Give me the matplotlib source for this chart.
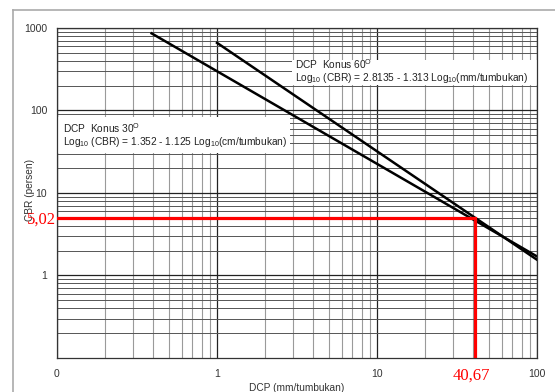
import matplotlib
matplotlib.use("Agg")
import matplotlib.pyplot as plt
from matplotlib.lines import Line2D
from matplotlib.patches import Rectangle

plt.rcParams['font.family'] = ['Liberation Sans', 'DejaVu Sans']
plt.rcParams['mathtext.default'] = 'regular'

# garis korelasi DCP - CBR
dcp_30 = [0.39, 100]
cbr_30 = [860, 1.7]
dcp_60 = [1.0, 100]
cbr_60 = [660, 1.55]

# titik baca
dcp_read = 40.67
cbr_read = 5.02

x_ticks = [0.1, 1, 10, 100]
x_ticklabels = ['0', '1', '10', '100']
y_ticks = [1, 10, 100, 1000]
y_ticklabels = ['1', '10', '100', '1000']

fig = plt.figure(figsize=(5.55, 3.92), dpi=100)
ax = fig.add_axes([0.1027, 0.0867, 0.865, 0.842])

ax.set_xscale('log')
ax.set_yscale('log')

# grid
ax.set_axisbelow(True)
ax.grid(True, which='major', color='#222222', lw=0.9)
ax.xaxis.grid(True, which='minor', color='#9a9a9a', lw=0.8)
ax.yaxis.grid(True, which='minor', color='#555555', lw=0.7)

# kotak keterangan
ax.add_patch(Rectangle((0.0, 0.621), 0.485, 0.109, transform=ax.transAxes,
                       facecolor='white', edgecolor='none', zorder=1.5))
ax.add_patch(Rectangle((0.49, 0.827), 0.51, 0.076, transform=ax.transAxes,
                       facecolor='white', edgecolor='none', zorder=1.5))

ax.plot(dcp_30, cbr_30, color='black', lw=1.8, zorder=2.5)
ax.plot(dcp_60, cbr_60, color='black', lw=1.8, zorder=2.5)

# garis merah
ax.plot([0.1, dcp_read, dcp_read], [cbr_read, cbr_read, 0.1],
        color='#ff0000', lw=2.3, zorder=3, solid_joinstyle='miter')

ax.text(0.0125, 0.697, r'DCP  Konus 30$^{O}$', transform=ax.transAxes,
        fontsize=7.3, color='#222222', va='center', zorder=4)
ax.text(0.0125, 0.655, r'Log$_{10}$ (CBR) = 1.352 - 1.125 Log$_{10}$(cm/tumbukan)',
        transform=ax.transAxes, fontsize=7.3, color='#222222', va='center', zorder=4)
ax.text(0.496, 0.89, r'DCP  Konus 60$^{O}$', transform=ax.transAxes,
        fontsize=7.3, color='#222222', va='center', zorder=4)
ax.text(0.496, 0.848, r'Log$_{10}$ (CBR) = 2.8135 - 1.313 Log$_{10}$(mm/tumbukan)',
        transform=ax.transAxes, fontsize=7.3, color='#222222', va='center', zorder=4)

ax.set_xticks(x_ticks)
ax.set_xticklabels(x_ticklabels)
ax.set_yticks(y_ticks)
ax.set_yticklabels(y_ticklabels)
ax.set_xlim(0.1, 100)
ax.set_ylim(0.1, 1000)
ax.tick_params(which='both', length=0, labelsize=7.5, colors='#333333')
ax.tick_params(axis='x', pad=8)
ax.tick_params(axis='y', pad=7)

for s in ax.spines.values():
    s.set_color('#333333')
    s.set_linewidth(0.9)

ax.set_xlabel('DCP (mm/tumbukan)', fontsize=7.3, color='#333333', labelpad=3)
ax.set_ylabel('CBR (persen)', fontsize=7.3, color='#333333')
ax.yaxis.set_label_coords(-0.045, 0.51)

# angka merah
fig.text(41 / 555, 1 - 220 / 392, '5,02', color='#ff0000', fontsize=12,
         family='Liberation Serif', ha='center', va='center', zorder=5)
fig.text(471 / 555, 1 - 376 / 392, '40,67', color='#ff0000', fontsize=12,
         family='Liberation Serif', ha='center', va='center', zorder=5)

# bingkai halaman
fig.add_artist(Line2D([13 / 555, 13 / 555], [0, 1 - 10 / 392], color='#aaaaaa', lw=1.2))
fig.add_artist(Line2D([13 / 555, 1], [1 - 10 / 392, 1 - 10 / 392], color='#aaaaaa', lw=1.2))

fig.savefig('out.png', dpi=100)
